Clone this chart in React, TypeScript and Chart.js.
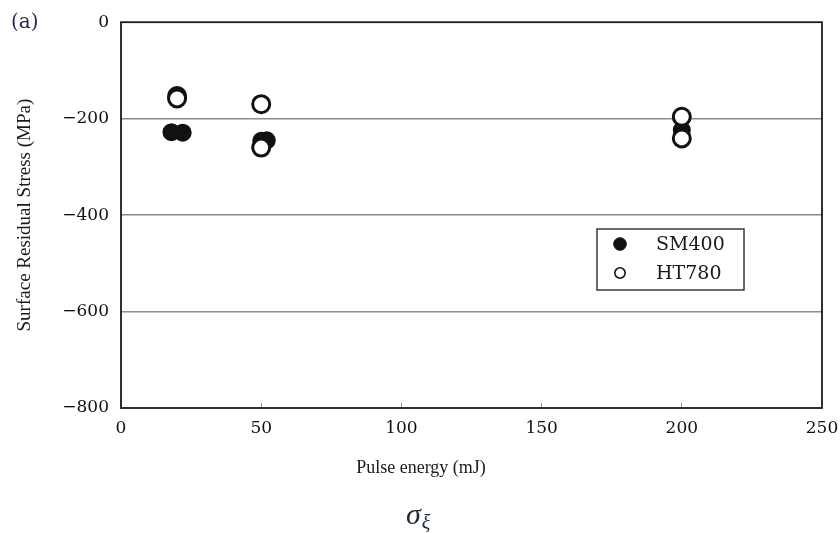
import React, { useEffect, useRef } from "react";
import { Chart, registerables } from "chart.js";

Chart.register(...registerables);

// ---- data ----
const seriesNames = ["SM400", "HT780"];
const sm400Energy = [18, 22, 50, 52, 200];
const sm400Stress = [-228, -229, -246, -245, -224];
const ht780Energy = [20, 20, 50, 50, 200, 200];
const ht780Stress = [-153, -158, -170, -260, -196, -241];
const xTicks = [0, 50, 100, 150, 200, 250];
const yTicks = [0, -200, -400, -600, -800];
const xTitle = "Pulse energy (mJ)";
const yTitle = "Surface Residual Stress (MPa)";
const panelLabel = "(a)";
const bottomSymbol = "σ";
const bottomSub = "ξ";

const TICK_FONT = "'DejaVu Serif', serif";
const TEXT_FONT = "'Liberation Serif', 'Times New Roman', serif";

const framePlugin = {
  id: "frameAndNotes",
  beforeDatasetsDraw(chart: any) {
    const { ctx, chartArea } = chart;
    ctx.save();
    ctx.strokeStyle = "#1a1a1a";
    ctx.lineWidth = 1.8;
    ctx.strokeRect(chartArea.left, chartArea.top, chartArea.right - chartArea.left, chartArea.bottom - chartArea.top);
    ctx.restore();
  },
  afterDraw(chart: any) {
    const { ctx } = chart;
    ctx.save();
    // legend box
    const bx = 597, by = 229, bw = 147, bh = 61;
    ctx.fillStyle = "#ffffff";
    ctx.fillRect(bx, by, bw, bh);
    ctx.strokeStyle = "#3a3a3a";
    ctx.lineWidth = 1.5;
    ctx.strokeRect(bx, by, bw, bh);
    const ds = chart.data.datasets;
    const rows = [
      { d: ds[0], y: 244, r: 6.3, bw: 1 },
      { d: ds[1], y: 273, r: 5.2, bw: 1.6 },
    ];
    rows.forEach((row) => {
      ctx.beginPath();
      ctx.arc(620, row.y, row.r, 0, Math.PI * 2);
      ctx.fillStyle = row.d.backgroundColor;
      ctx.fill();
      ctx.lineWidth = row.bw;
      ctx.strokeStyle = "#111";
      ctx.stroke();
      ctx.fillStyle = "#1a1a1a";
      ctx.font = `19px ${TICK_FONT}`;
      ctx.textBaseline = "middle";
      ctx.textAlign = "left";
      ctx.fillText(row.d.label, 656, row.y + 1);
    });
    // x-axis title
    ctx.fillStyle = "#1a1a1a";
    ctx.font = `18px ${TEXT_FONT}`;
    ctx.textAlign = "center";
    ctx.textBaseline = "middle";
    ctx.fillText(xTitle, 421, 468);
    // panel label
    ctx.fillStyle = "#2b2950";
    ctx.font = `20px ${TICK_FONT}`;
    ctx.textBaseline = "middle";
    ctx.textAlign = "left";
    ctx.fillText(panelLabel, 11, 23);
    // bottom symbol
    ctx.fillStyle = "#1f2540";
    ctx.font = `italic 30px ${TEXT_FONT}`;
    ctx.textBaseline = "alphabetic";
    ctx.fillText(bottomSymbol, 406, 524);
    const w = ctx.measureText(bottomSymbol).width;
    ctx.font = `italic 20px ${TEXT_FONT}`;
    ctx.fillText(bottomSub, 406 + w + 1, 529);
    ctx.restore();
  },
};

export default function App() {
  const ref = useRef<HTMLCanvasElement>(null);
  useEffect(() => {
    if (!ref.current) return;
    const chart = new Chart(ref.current, {
      type: "scatter",
      data: {
        datasets: [
          {
            label: seriesNames[0],
            data: sm400Energy.map((x, i) => ({ x, y: sm400Stress[i] })),
            backgroundColor: "#111111",
            borderColor: "#111111",
            borderWidth: 2,
            pointRadius: 8,
            order: 2,
          },
          {
            label: seriesNames[1],
            data: ht780Energy.map((x, i) => ({ x, y: ht780Stress[i] })),
            backgroundColor: "#ffffff",
            borderColor: "#111111",
            borderWidth: 3,
            pointRadius: 8.5,
            order: 1,
          },
        ],
      },
      options: {
        responsive: false,
        animation: false,
        layout: { padding: { top: 22, right: 18, left: 0, bottom: 0 } },
        plugins: { legend: { display: false }, tooltip: { enabled: false } },
        scales: {
          x: {
            type: "linear",
            min: 0,
            max: 250,
            afterFit: (s: any) => {
              s.height = 125;
              s.paddingRight = 0;
              s.paddingLeft = 0;
            },
            afterBuildTicks: (s: any) => {
              s.ticks = xTicks.map((v) => ({ value: v }));
            },
            border: { display: false },
            grid: {
              display: true,
              drawOnChartArea: false,
              drawTicks: true,
              tickLength: -5,
              color: "#9a9a9a",
              lineWidth: 1,
            },
            ticks: {
              padding: 15,
              color: "#111",
              font: { family: TICK_FONT, size: 17 },
              maxRotation: 0,
            },
            title: { display: false },
          },
          y: {
            type: "linear",
            min: -800,
            max: 0,
            afterFit: (s: any) => {
              s.width = 121;
            },
            afterBuildTicks: (s: any) => {
              s.ticks = yTicks.map((v) => ({ value: v }));
            },
            border: { display: false },
            grid: {
              drawTicks: false,
              color: (c: any) =>
                c.tick && (c.tick.value === 0 || c.tick.value === -800) ? "rgba(0,0,0,0)" : "#8c8c8c",
              lineWidth: 1.5,
            },
            ticks: {
              padding: 12,
              color: "#111",
              font: { family: TICK_FONT, size: 17 },
              callback: (v: any) => (v === 0 ? "0" : "\u2212" + Math.abs(v)),
            },
            title: {
              display: true,
              text: yTitle,
              color: "#1a1a1a",
              font: { family: TEXT_FONT, size: 19 },
              padding: { top: 14, bottom: 0 },
            },
          },
        },
      },
      plugins: [framePlugin],
    });
    return () => chart.destroy();
  }, []);
  return (
    <div style={{ position: "absolute", left: 0, top: 0, width: 840, height: 533, background: "#fff", overflow: "hidden" }}>
      <canvas ref={ref} width={840} height={533} style={{ width: 840, height: 533, display: "block" }} />
    </div>
  );
}
